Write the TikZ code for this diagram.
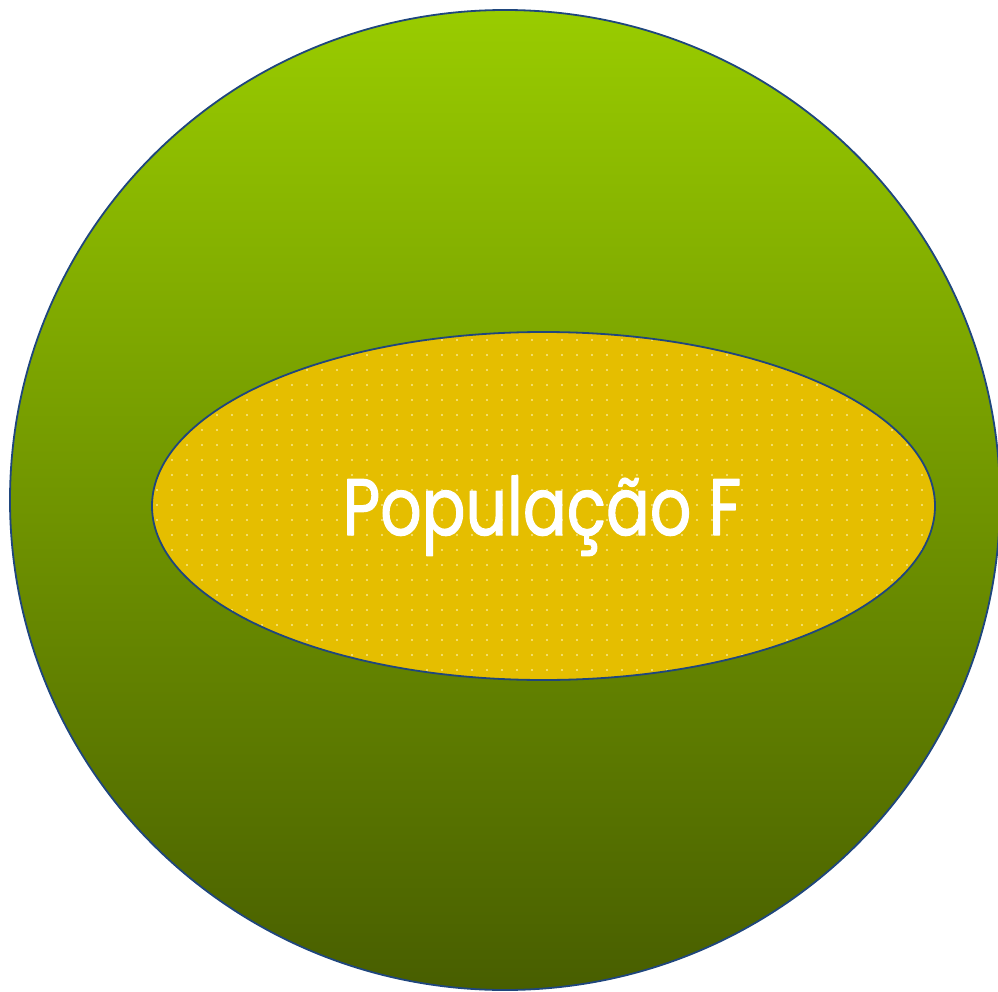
\documentclass[tikz,border=0pt]{standalone}
\usepackage{fontspec}
\setmainfont{Poppins}
\newfontfamily\popfont[FakeBold=1.6]{Poppins}
\usetikzlibrary{shapes.geometric, patterns.meta}

\definecolor{popgreentop}{RGB}{153,204,0}
\definecolor{popgreenbot}{RGB}{72,94,0}
\definecolor{popblue}{RGB}{31,70,125}
\definecolor{popyellow}{RGB}{229,190,0}
\definecolor{popdot}{RGB}{248,232,140}

\tikzdeclarepattern{
  name=popdots,
  type=uncolored,
  bottom left={(0pt,0pt)},
  top right={(15pt,15pt)},
  tile size={(15pt,15pt)},
  code={\fill (7.5pt,7.5pt) circle (1.2pt);}
}

\begin{document}
\begin{tikzpicture}[x=1pt,y=-1pt,line join=bevel,
  outer/.style={ellipse,inner sep=0pt,draw=popblue,line width=1.8pt,
    top color=popgreentop,bottom color=popgreenbot},
  inner/.style={ellipse,inner sep=0pt,draw=popblue,line width=1.8pt,
    preaction={fill=popyellow},pattern=popdots,pattern color=popdot},
  label/.style={text=white,font=\popfont\fontsize{80}{90}\selectfont,inner sep=0pt}]
\useasboundingbox (0,0) rectangle (998,992);
%%
\node (pop_all) at (505,500) [outer,minimum width=990pt,minimum height=980pt] {};
\node (pop_f) at (543.5,506) [inner,minimum width=783pt,minimum height=348pt] {};
\node (pop_f_text) at (542,535) [label,anchor=base] {\scalebox{0.81}[1]{População F}};
%
\end{tikzpicture}
\end{document}
